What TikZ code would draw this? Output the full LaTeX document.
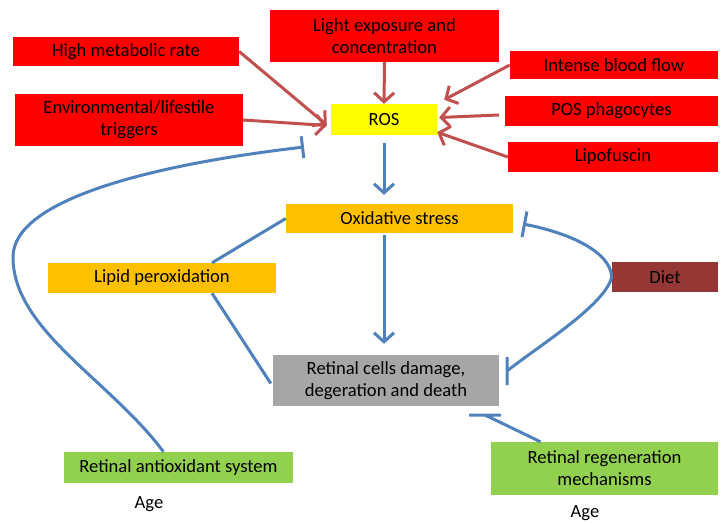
\documentclass[tikz,border=0pt]{standalone}
\usepackage{fontspec}
\setmainfont{Carlito}
\usetikzlibrary{arrows.meta}
\definecolor{boxred}{HTML}{FF0000}
\definecolor{rosyellow}{HTML}{FFFF00}
\definecolor{stressorange}{HTML}{FFC000}
\definecolor{damagegray}{HTML}{A6A6A6}
\definecolor{dietbrown}{HTML}{953735}
\definecolor{systemgreen}{HTML}{92D050}
\definecolor{arrowred}{HTML}{C0504D}
\definecolor{lineblue}{HTML}{4F81BD}

\begin{document}
\begin{tikzpicture}[x=1pt,y=-1pt,>={Straight Barb[length=9pt,width=20pt]},
    font=\fontsize{18.6}{22}\selectfont,
    box/.style={inner sep=0pt,align=center,minimum height=30pt},
    redbox/.style={box,fill=boxred},
    redarrow/.style={->,draw=arrowred,line width=3pt},
    bluearrow/.style={->,draw=lineblue,line width=3pt},
    blueline/.style={draw=lineblue,line width=3pt},
    inhibit/.style={blueline,-{Bar[width=26pt]}}]
    \useasboundingbox (0,0) rectangle (724,523);
    % causes of ROS
    \node[redbox,minimum width=226pt,minimum height=29pt] (metab) at (126,51.5) {High metabolic rate};
    \node[redbox,minimum width=228pt,minimum height=52pt] (env) at (129,120) {Environmental/lifestile\\triggers};
    \node[redbox,minimum width=229pt,minimum height=52pt] (light) at (384.5,36) {Light exposure and\\concentration};
    \node[redbox,minimum width=208pt,minimum height=28pt] (blood) at (614,65) {Intense blood flow};
    \node[redbox,minimum width=213pt] (phago) at (611.5,111) {POS phagocytes};
    \node[redbox,minimum width=210pt] (lipo) at (613,157) {Lipofuscin};
    \node[box,fill=rosyellow,minimum width=106pt,minimum height=31pt] (ros) at (384,119.5) {ROS};
    % main chain
    \node[box,fill=stressorange,minimum width=227pt,minimum height=29pt] (stress) at (399.5,218.5) {Oxidative stress};
    \node[box,fill=stressorange,minimum width=228pt] (lipid) at (162,278) {Lipid peroxidation};
    \node[box,fill=damagegray,minimum width=226pt,minimum height=51pt] (damage) at (386,380.5) {Retinal cells damage,\\degeration and death};
    \node[box,fill=dietbrown,minimum width=106pt] (diet) at (665,277) {Diet};
    \node[box,fill=systemgreen,minimum width=229pt,minimum height=31pt] (antiox) at (178.5,467.5) {Retinal antioxidant system};
    \node[box,fill=systemgreen,minimum width=227pt,minimum height=53pt] (regen) at (604.5,468.5) {Retinal regeneration\\mechanisms};
    \node (age1) at (149,504) {Age};
    \node (age2) at (585,513) {Age};
    % red arrows into ROS
    \draw[redarrow] (metab.east) -- ([xshift=-4pt,yshift=-5.5pt]ros.west);
    \draw[redarrow] (env.east) -- ([xshift=-4pt,yshift=-6pt]ros.west);
    \draw[redarrow] (light.south) -- (ros.north);
    \draw[redarrow] (blood.west) -- ([xshift=7pt,yshift=4pt]ros.north east);
    \draw[redarrow] ([xshift=-6pt,yshift=-4pt]phago.west) -- ([xshift=2pt,yshift=2pt]ros.east);
    \draw[redarrow] (lipo.west) -- ([yshift=3pt]ros.south east);
    % blue arrows and lines
    \draw[bluearrow,shorten <=8pt,shorten >=9pt] (ros.south) -- (ros.south |- stress.north);
    \draw[bluearrow,shorten <=2pt,shorten >=11pt] (ros.south |- stress.south) -- (ros.south |- damage.north);
    \draw[blueline] (stress.west) -- ([xshift=50pt]lipid.north);
    \draw[blueline] ([xshift=50pt]lipid.south) -- ([xshift=-2pt,yshift=-3pt]damage.west);
    % inhibitions
    \coordinate (stressbar) at (523,224);
    \coordinate (damagebar) at (507,371);
    \coordinate (regenbar) at (485,415);
    \coordinate (rosbar) at (304,147);
    \draw[inhibit] (diet.west) .. controls (610,250) and (565,232) .. (stressbar);
    \draw[blueline] (diet.west) .. controls (605,305) and (540,345) .. (damagebar) ++(0,-14) -- ++(0,28);
    \draw[blueline] ([xshift=-64pt]regen.north) -- (regenbar) ++(-16,0) -- ++(32,0);
    \draw[inhibit,-{Bar[width=22pt]}] ([xshift=-15pt]antiox.north) .. controls (110,380) and (13,330) .. (13,257)
        .. controls (13,200) and (150,165) .. (rosbar);
\end{tikzpicture}
\end{document}
